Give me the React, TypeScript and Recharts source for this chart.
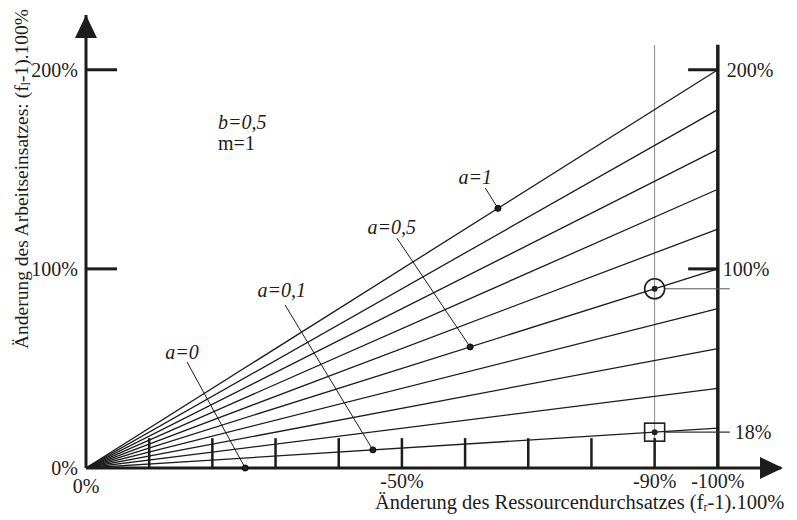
import React from 'react';
import { ComposedChart, Line, XAxis, YAxis, ReferenceLine, ReferenceDot, Label } from 'recharts';

const FONT = '"Liberation Serif", "Times New Roman", serif';
const INK = '#1c1c1c';

// fan of curves: parameter a, value of (f_l-1) at start (0%) and at -100%
const curveParams = [0, 0.1, 0.2, 0.3, 0.4, 0.5, 0.6, 0.7, 0.8, 0.9, 1];
const curveXs = [0, 100];
const curveStartValues = [0, 0, 0, 0, 0, 0, 0, 0, 0, 0, 0];
const curveEndValues = [0, 20, 40, 60, 80, 100, 120, 140, 160, 180, 200];

// axis ticks
const xTickValues = [0, 50, 90, 100];
const xTickLabels = ['0%', '-50%', '-90%', '-100%'];
const xMinorTicks = [10, 20, 30, 40, 50, 60, 70, 80, 90];
const yTickValues = [0, 100, 200];
const yTickLabels = ['0%', '100%', '200%'];

// marked points on curves
const markedLabels = ['a=1', 'a=0,5', 'a=0,1', 'a=0'];
const markedX = [65.2, 60.8, 45.4, 25.2];
const markedY = [130.4, 60.8, 9.1, 0];

// highlighted reading at -90%
const focusX = 90;
const focusCircleY = 90;
const focusSquareY = 18;

// right-hand labels
const rightLabels = ['200%', '100%', '18%'];
const rightLabelValues = [200, 100, 18];

// parameters text
const paramLines = ['b=0,5', 'm=1'];

// ---- layout (not data) ----
const X_DOMAIN: [number, number] = [0, 110];
const Y_DOMAIN: [number, number] = [0, 227.5];
const AXIS_TOP = 212.5;
const MINOR_TICK_H = 15;
const annotationAnchors = [
  { x: 61.6, y: 146.2 },
  { x: 48.4, y: 121.0 },
  { x: 31.0, y: 89.4 },
  { x: 15.2, y: 58.3 },
];
const leaderStarts = [
  { x: 63.2, y: 140.6 },
  { x: 49.2, y: 115.5 },
  { x: 31.5, y: 81.9 },
  { x: 16.0, y: 53.2 },
];
const paramAnchor = { x: 20.9, y: [173.8, 163.2] };
const rightLabelDx = [9, 5, 17];

const chartData = curveXs.map((x, i) => {
  const row: Record<string, number> = { x };
  curveParams.forEach((_, k) => {
    row['a' + k] = i === 0 ? curveStartValues[k] : curveEndValues[k];
  });
  return row;
});

const XTick = (props: any) => {
  const { x, y, payload } = props;
  const i = xTickValues.indexOf(payload.value);
  if (i < 0) return <g />;
  return (
    <text x={x} y={y + (payload.value === 0 ? 18 : 13)} textAnchor="middle" dominantBaseline="central" fontFamily={FONT} fontSize={20} fill={INK}>
      {xTickLabels[i]}
    </text>
  );
};

const YTick = (props: any) => {
  const { x, y, payload } = props;
  const i = yTickValues.indexOf(payload.value);
  return (
    <g>
      {payload.value !== 0 && <line x1={x} y1={y} x2={x + 31} y2={y} stroke={INK} strokeWidth={3} />}
      <text x={x - 8} y={y} textAnchor="end" dominantBaseline="central" fontFamily={FONT} fontSize={20} fill={INK}>
        {yTickLabels[i]}
      </text>
    </g>
  );
};

const XTitle = (props: any) => {
  const vb = props.viewBox || { x: 86, y: 468 };
  return (
    <text x={vb.x + 289} y={vb.y + 34} textAnchor="start" dominantBaseline="central" fontFamily={FONT} fontSize={20.5} fill={INK}>
      Änderung des Ressourcendurchsatzes (f
      <tspan fontSize={12} dy={5}>r</tspan>
      <tspan dy={-5}>-1).100%</tspan>
    </text>
  );
};

const YTitle = (props: any) => {
  const vb = props.viewBox || { x: 0, y: 15 };
  const cx = vb.x + 21;
  const cy = 179;
  return (
    <text x={cx} y={cy} transform={`rotate(-90, ${cx}, ${cy})`} textAnchor="middle" dominantBaseline="central" fontFamily={FONT} fontSize={19.5} fill={INK}>
      Änderung des Arbeitseinsatzes: (f
      <tspan fontSize={12} dy={5}>l</tspan>
      <tspan dy={-5}>-1).100%</tspan>
    </text>
  );
};

export default function App() {
  return (
    <div style={{ position: 'absolute', left: 0, top: 0, width: 797, height: 520, background: '#fff' }}>
      <ComposedChart width={797} height={520} data={chartData} margin={{ top: 15, right: 16, left: 0, bottom: 0 }}>
        <XAxis
          type="number"
          dataKey="x"
          domain={X_DOMAIN}
          ticks={xTickValues}
          interval={0}
          height={52}
          tickSize={0}
          tickMargin={0}
          tickLine={false}
          axisLine={{ stroke: INK, strokeWidth: 3 }}
          tick={<XTick />}
          allowDataOverflow
        >
          <Label content={<XTitle />} />
        </XAxis>
        <YAxis
          type="number"
          domain={Y_DOMAIN}
          ticks={yTickValues}
          interval={0}
          width={86}
          tickSize={0}
          tickMargin={0}
          tickLine={false}
          axisLine={{ stroke: INK, strokeWidth: 3 }}
          tick={<YTick />}
          allowDataOverflow
        >
          <Label content={<YTitle />} />
        </YAxis>

        {/* gray guide at -90% */}
        <ReferenceLine segment={[{ x: focusX, y: 0 }, { x: focusX, y: AXIS_TOP }]} stroke="#8a8a8a" strokeWidth={1} />
        {/* right axis */}
        <ReferenceLine segment={[{ x: 100, y: 0 }, { x: 100, y: AXIS_TOP }]} stroke={INK} strokeWidth={3.5} />
        {yTickValues.filter((v) => v > 0).map((v) => (
          <ReferenceLine key={'rt' + v} segment={[{ x: 95.3, y: v }, { x: 100, y: v }]} stroke={INK} strokeWidth={3} />
        ))}
        {/* minor ticks on x axis */}
        {xMinorTicks.map((v) => (
          <ReferenceLine key={'mt' + v} segment={[{ x: v, y: 0 }, { x: v, y: MINOR_TICK_H }]} stroke={INK} strokeWidth={2.5} />
        ))}
        {/* reading lines to right */}
        <ReferenceLine segment={[{ x: 91.6, y: focusCircleY }, { x: 101.9, y: focusCircleY }]} stroke="#555" strokeWidth={1} />
        <ReferenceLine segment={[{ x: 91.7, y: focusSquareY }, { x: 101.9, y: focusSquareY }]} stroke="#333" strokeWidth={1.2} />

        {curveParams.map((a, k) => (
          <Line
            key={'a' + k}
            dataKey={'a' + k}
            type="linear"
            stroke={INK}
            strokeWidth={1.3}
            dot={false}
            activeDot={false}
            isAnimationActive={false}
          />
        ))}

        {/* leaders */}
        {markedLabels.map((l, i) => (
          <ReferenceLine
            key={'ld' + i}
            segment={[leaderStarts[i], { x: markedX[i], y: markedY[i] }]}
            stroke={INK}
            strokeWidth={1}
          />
        ))}
        {markedLabels.map((l, i) => (
          <ReferenceDot key={'md' + i} x={markedX[i]} y={markedY[i]} r={3} fill="#222" stroke="#000" strokeWidth={1} />
        ))}
        {markedLabels.map((l, i) => (
          <ReferenceDot
            key={'ml' + i}
            x={annotationAnchors[i].x}
            y={annotationAnchors[i].y}
            r={0}
            shape={(p: any) => (
              <text x={p.cx} y={p.cy} textAnchor="middle" dominantBaseline="central" fontFamily={FONT} fontStyle="italic" fontSize={20} fill={INK}>
                {l}
              </text>
            )}
          />
        ))}
        {paramLines.map((t, i) => (
          <ReferenceDot
            key={'pl' + i}
            x={paramAnchor.x}
            y={paramAnchor.y[i]}
            r={0}
            shape={(p: any) => (
              <text x={p.cx} y={p.cy} textAnchor="start" dominantBaseline="central" fontFamily={FONT} fontStyle={i === 0 ? 'italic' : 'normal'} fontSize={20} fill={INK}>
                {t}
              </text>
            )}
          />
        ))}

        {/* focus markers */}
        <ReferenceDot
          x={focusX}
          y={focusCircleY}
          r={10}
          shape={(p: any) => (
            <g>
              <circle cx={p.cx} cy={p.cy} r={10} fill="none" stroke={INK} strokeWidth={1.6} />
              <circle cx={p.cx} cy={p.cy} r={3} fill="#222" />
            </g>
          )}
        />
        <ReferenceDot
          x={focusX}
          y={focusSquareY}
          r={10}
          shape={(p: any) => (
            <g>
              <rect x={p.cx - 10} y={p.cy - 9} width={20} height={18} fill="none" stroke={INK} strokeWidth={1.6} />
              <circle cx={p.cx} cy={p.cy} r={3} fill="#222" />
            </g>
          )}
        />

        {/* right labels */}
        {rightLabels.map((t, i) => (
          <ReferenceDot
            key={'rl' + i}
            x={100}
            y={rightLabelValues[i]}
            r={0}
            shape={(p: any) => (
              <text x={p.cx + rightLabelDx[i]} y={p.cy} textAnchor="start" dominantBaseline="central" fontFamily={FONT} fontSize={20} fill={INK}>
                {t}
              </text>
            )}
          />
        ))}

        {/* arrowheads */}
        <ReferenceDot
          x={X_DOMAIN[1]}
          y={0}
          r={1}
          shape={(p: any) => (
            <polygon points={`${p.cx + 2},${p.cy} ${p.cx - 21},${p.cy - 11} ${p.cx - 21},${p.cy + 11}`} fill={INK} />
          )}
        />
        <ReferenceDot
          x={0}
          y={Y_DOMAIN[1]}
          r={1}
          shape={(p: any) => (
            <polygon points={`${p.cx},${p.cy} ${p.cx - 11},${p.cy + 23} ${p.cx + 11},${p.cy + 23}`} fill={INK} />
          )}
        />
      </ComposedChart>
    </div>
  );
}
